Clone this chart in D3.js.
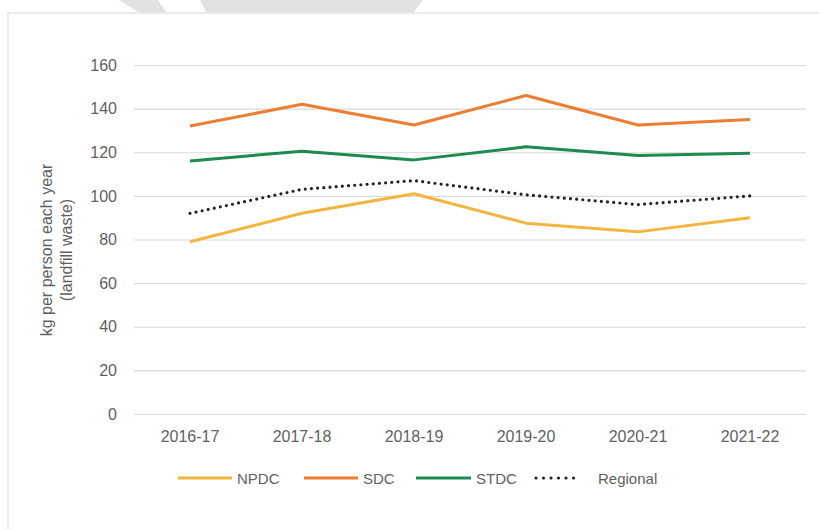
<!DOCTYPE html>
<html>
<head>
<meta charset="utf-8">
<script src="https://cdnjs.cloudflare.com/ajax/libs/d3/7.8.5/d3.min.js"></script>
<style>
body{margin:0;background:#fff;}
text{font-family:"Liberation Sans",Arial,sans-serif;}
</style>
</head>
<body>
<script>
// DATA
var years=["2016-17","2017-18","2018-19","2019-20","2020-21","2021-22"];
var npdc=[79,92,101,87.5,83.5,90];
var sdc=[132,142,132.5,146,132.5,135];
var stdc=[116,120.5,116.5,122.5,118.5,119.5];
var regional=[92,103,107,100.5,96,100];
var yTicks=[0,20,40,60,80,100,120,140,160];
var seriesNames=["NPDC","SDC","STDC","Regional"];
var seriesColors=["#F3B53D","#ED7D31","#1E8A4E","#222"];

//CANVAS
var svg_width=819, svg_height=529;
var plotLeft=134, plotRight=806, plotTop=65, plotBottom=414;

var svg=d3.select("body").append("svg")
.attr("width",svg_width)
.attr("height",svg_height);

// watermark bits at top
svg.append("polygon").attr("points","119,0 158,0 166,12 138,12").attr("fill","#e2e2e2");
svg.append("polygon").attr("points","200,0 423,0 414,12 206,12").attr("fill","#e2e2e2");

// chart frame
svg.append("rect")
.attr("x",8).attr("y",13)
.attr("width",830).attr("height",540)
.attr("fill","none").attr("stroke","#e3e3e3").attr("stroke-width",1.5);

var x=d3.scaleBand().domain(years).range([plotLeft,plotRight]);
var y=d3.scaleLinear().domain([0,160]).range([plotBottom,plotTop]);

// gridlines + y labels
var yAxis=svg.append("g").attr("transform","translate("+plotLeft+",0)")
.call(d3.axisLeft(y).tickValues(yTicks).tickSize(-(plotRight-plotLeft)).tickPadding(17));
yAxis.select(".domain").remove();
yAxis.selectAll("line").attr("stroke","#d9d9d9").attr("stroke-width",1.2);
yAxis.selectAll("text").attr("fill","#5f5f5f").style("font-size","16px");

// x labels
var xAxis=svg.append("g").attr("transform","translate(0,"+plotBottom+")")
.call(d3.axisBottom(x).tickSize(0).tickPadding(17));
xAxis.select(".domain").remove();
xAxis.selectAll("text").attr("fill","#5f5f5f").style("font-size","16px");

// y title
var yt=svg.append("text")
.attr("transform","translate(52,250) rotate(-90)")
.attr("text-anchor","middle")
.attr("fill","#5f5f5f")
.style("font-size","16px");
yt.append("tspan").attr("x",0).attr("dy",0).text("kg per person each year");
yt.append("tspan").attr("x",0).attr("dy",20).text("(landfill waste)");

// lines
var allSeries=[npdc,sdc,stdc,regional];
var line=d3.line()
.x(function(d,i){return x(years[i])+x.bandwidth()/2;})
.y(function(d){return y(d);});

svg.selectAll(".series")
.data(allSeries)
.enter()
.append("path")
.attr("class","series")
.attr("d",line)
.attr("fill","none")
.attr("stroke",function(d,i){return seriesColors[i];})
.attr("stroke-width",function(d,i){return i==3?3.2:3;})
.attr("stroke-linecap",function(d,i){return i==3?"round":"butt";})
.attr("stroke-linejoin","round")
.attr("stroke-dasharray",function(d,i){return i==3?"0,6.2":null;});

// legend
var legX=[178,304,416,536];
var legLen=[54,54,55,42];
var leg=svg.selectAll(".leg")
.data(seriesNames)
.enter()
.append("g")
.attr("class","leg")
.attr("transform",function(d,i){return "translate("+legX[i]+",478)";});

leg.append("line")
.attr("x1",0).attr("y1",0)
.attr("x2",function(d,i){return legLen[i];}).attr("y2",0)
.attr("stroke",function(d,i){return seriesColors[i];})
.attr("stroke-width",function(d,i){return i==3?3.2:3;})
.attr("stroke-linecap",function(d,i){return i==3?"round":"butt";})
.attr("stroke-dasharray",function(d,i){return i==3?"0,7.5":null;});

leg.append("text")
.attr("x",function(d,i){return legLen[i]+(i==3?20:5);})
.attr("y",6)
.attr("fill","#5f5f5f")
.style("font-size","15px")
.text(function(d){return d;});
</script>
</body>
</html>
